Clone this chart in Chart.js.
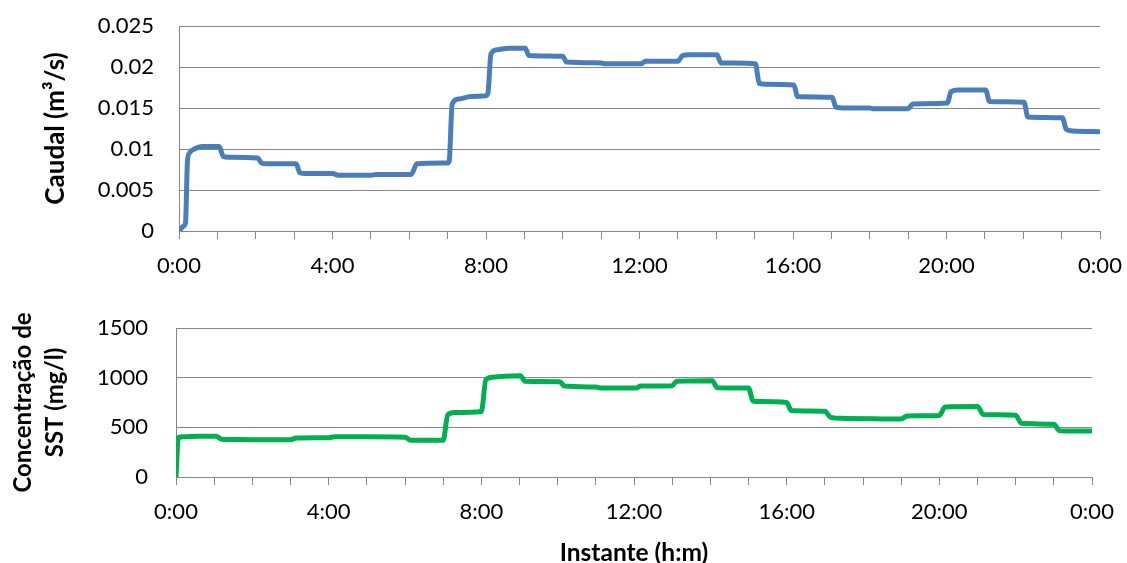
<!DOCTYPE html>
<html>
<head>
<meta charset="utf-8">
<script src="https://cdn.jsdelivr.net/npm/chart.js@4.4.1/dist/chart.umd.min.js"></script>
<style>
  html, body { margin: 0; padding: 0; background: #ffffff; }
  #wrap { position: relative; width: 1127px; height: 563px; overflow: hidden; }
  .panel { position: absolute; left: 0; }
  #flowPanel { top: 0; }
  #sstPanel { top: 290px; }
</style>
</head>
<body>
<div id="wrap">
  <div class="panel" id="flowPanel"><canvas id="flowChart" width="1127" height="290"></canvas></div>
  <div class="panel" id="sstPanel"><canvas id="sstChart" width="1127" height="273"></canvas></div>
</div>
<script>
// Flow (m³/s) over one day, time in hours since 0:00
const flowHours = [0, 0.12, 0.17, 0.22, 0.27, 0.4, 0.6, 1.05, 1.15, 1.3, 2.05, 2.15, 2.3, 3.05, 3.15, 3.3, 4.0, 4.15, 5.0, 5.15, 6.05, 6.2, 7.0,
  7.04, 7.12, 7.3, 7.6, 8.0, 8.05, 8.13, 8.3, 8.6, 9.02, 9.12, 10.0, 10.1, 11.0, 11.1, 12.05, 12.15, 13.0, 13.12, 13.3, 14.02, 14.12, 15.02,
  15.12, 15.3, 16.02, 16.12, 17.02, 17.12, 17.3, 18.0, 18.1, 19.0, 19.12, 20.02, 20.12, 20.3, 21.02, 21.12, 22.02, 22.12, 23.02, 23.12, 23.3, 24];
const flowValues = [0, 0.0006, 0.001, 0.0085, 0.0095, 0.0100, 0.0103, 0.0103, 0.0091, 0.0090, 0.0089, 0.0083, 0.0082, 0.0082, 0.0071, 0.0070, 0.0070, 0.0068, 0.0068, 0.0069, 0.0069, 0.0082, 0.0083,
  0.0085, 0.0155, 0.0161, 0.0164, 0.0165, 0.0168, 0.0216, 0.0221, 0.0223, 0.0223, 0.0214, 0.0213, 0.0206, 0.0205, 0.0204, 0.0204, 0.0207, 0.0207, 0.0214, 0.0215, 0.0215, 0.0205, 0.0204,
  0.0180, 0.0179, 0.0178, 0.0164, 0.0163, 0.0151, 0.0150, 0.0150, 0.0149, 0.0149, 0.0155, 0.0156, 0.0170, 0.0172, 0.0172, 0.0158, 0.0157, 0.0139, 0.0138, 0.0124, 0.0122, 0.0121];

// Suspended solids concentration (mg/l) over the same day
const sstHours = [0, 0.06, 0.2, 0.6, 1.05, 1.2, 1.5, 2.0, 3.0, 3.15, 4.0, 4.15, 5.0, 6.0, 6.15, 7.0, 7.12, 7.3, 8.0, 8.12, 8.3, 8.6, 9.02, 9.15, 10.05,
  10.18, 11.0, 11.15, 12.05, 12.18, 13.0, 13.12, 14.05, 14.18, 15.0, 15.12, 15.3, 16.0, 16.12, 17.0, 17.15, 17.5, 18.5, 19.0, 19.15, 20.0, 20.15, 21.0,
  21.15, 22.0, 22.15, 23.0, 23.15, 24];
const sstValues = [0, 395, 405, 410, 410, 380, 378, 375, 375, 392, 395, 405, 405, 400, 370, 370, 625, 650, 660, 980, 1005, 1015, 1020, 965, 960,
  915, 905, 895, 895, 915, 918, 965, 970, 898, 895, 765, 760, 750, 670, 663, 600, 590, 585, 583, 615, 620, 705, 710,
  630, 622, 540, 530, 465, 462];

const timeTickLabels = ['0:00', '4:00', '8:00', '12:00', '16:00', '20:00', '0:00'];
const flowTickLabels = ['0', '0.005', '0.01', '0.015', '0.02', '0.025'];
const sstTickLabels = ['0', '500', '1000', '1500'];

const GRID = '#868686';
const FONT = 'Lato, "Open Sans", sans-serif';

function toPoints(xs, ys) {
  return xs.map((x, i) => ({ x: x, y: ys[i] }));
}

function timeAxis(axisHeight, title) {
  return {
    type: 'linear',
    min: 0,
    max: 24,
    border: { display: true, color: GRID, width: 1 },
    grid: { drawOnChartArea: false, drawTicks: true, tickLength: 8, color: GRID, lineWidth: 1 },
    ticks: {
      stepSize: 1,
      autoSkip: false,
      maxRotation: 0,
      padding: 14,
      color: '#000',
      font: { family: FONT, size: 22 },
      callback: (v) => (v % 4 === 0 ? timeTickLabels[v / 4] : '')
    },
    title: title,
    afterFit: (scale) => {
      scale.height = axisHeight;
      scale.paddingLeft = 0;
      scale.paddingRight = 0;
    }
  };
}

function valueAxis(width, max, step, labels, title, pad) {
  return {
    min: 0,
    max: max,
    border: { display: true, color: GRID, width: 1 },
    grid: { drawTicks: false, color: GRID, lineWidth: 1 },
    ticks: {
      stepSize: step,
      padding: pad,
      color: '#000',
      font: { family: FONT, size: 22 },
      callback: (v, i) => labels[i]
    },
    title: title,
    afterFit: (scale) => {
      scale.width = width;
      scale.paddingTop = 0;
      scale.paddingBottom = 0;
    }
  };
}

const common = {
  responsive: false,
  animation: false,
  devicePixelRatio: 1,
  plugins: { legend: { display: false }, tooltip: { enabled: false } },
  elements: { point: { radius: 0 } }
};

new Chart(document.getElementById('flowChart'), {
  type: 'line',
  data: {
    datasets: [{
      data: toPoints(flowHours, flowValues),
      borderColor: '#4A7EBB',
      borderWidth: 5,
      borderCapStyle: 'round',
      borderJoinStyle: 'round',
      cubicInterpolationMode: 'monotone',
      fill: false
    }]
  },
  options: Object.assign({}, common, {
    layout: { padding: { top: 26, right: 27, left: 0, bottom: 0 } },
    scales: {
      x: timeAxis(59, { display: false }),
      y: valueAxis(179, 0.025, 0.005, flowTickLabels, {
        display: true,
        text: 'Caudal (m³/s)',
        color: '#000',
        font: { family: FONT, size: 26, weight: 'bold', lineHeight: 1.2 },
        padding: { top: 40, bottom: 0 }
      }, 25)
    }
  })
});

new Chart(document.getElementById('sstChart'), {
  type: 'line',
  data: {
    datasets: [{
      data: toPoints(sstHours, sstValues),
      borderColor: '#00B050',
      borderWidth: 5,
      borderCapStyle: 'round',
      borderJoinStyle: 'round',
      cubicInterpolationMode: 'monotone',
      fill: false
    }]
  },
  options: Object.assign({}, common, {
    layout: { padding: { top: 38, right: 35, left: 0, bottom: 0 } },
    scales: {
      x: timeAxis(86, {
        display: true,
        text: 'Instante (h:m)',
        color: '#000',
        font: { family: FONT, size: 24.5, weight: 'bold', lineHeight: 1.0 },
        padding: { top: 0, bottom: -2 }
      }),
      y: valueAxis(176, 1500, 500, sstTickLabels, {
        display: true,
        text: ['Concentração de', 'SST (mg/l)'],
        color: '#000',
        font: { family: FONT, size: 24, weight: 'bold', lineHeight: 1.35 },
        padding: { top: 7, bottom: 0 }
      }, 28)
    }
  })
});
</script>
</body>
</html>
